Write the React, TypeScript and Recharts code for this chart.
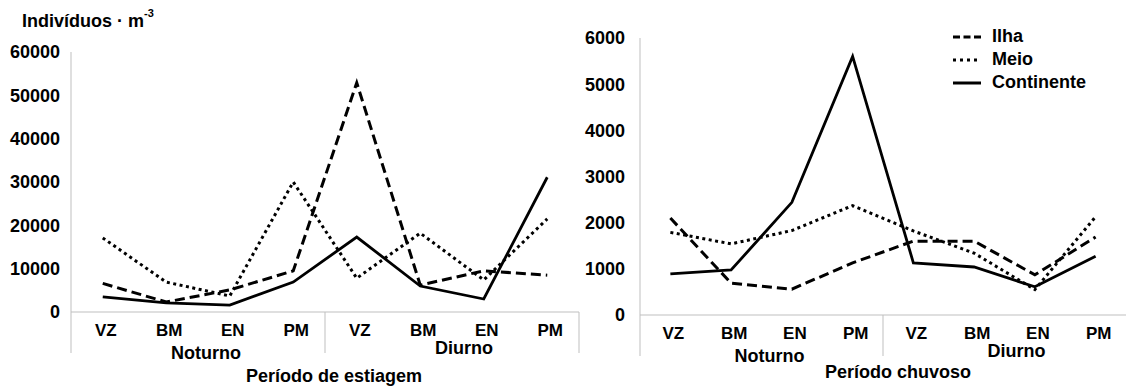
import React from 'react';
import { LineChart, Line, XAxis, YAxis } from 'recharts';

const FONT = '"Liberation Sans", Arial, sans-serif';
const AXIS_GREY = '#bfbfbf';

// categories (same order in both periods)
const categories = ['VZ', 'BM', 'EN', 'PM', 'VZ', 'BM', 'EN', 'PM'];
const groupLabels = ['Noturno', 'Diurno'];

// Período de estiagem (indivíduos por m3)
const estiagemIlha = [6600, 2300, 5100, 9500, 52900, 6200, 9500, 8500];
const estiagemMeio = [17100, 6900, 3700, 30000, 7800, 18200, 7400, 21500];
const estiagemContinente = [3500, 2100, 1600, 6900, 17300, 6000, 3000, 31100];

// Período chuvoso
const chuvosoIlha = [2100, 690, 560, 1130, 1600, 1600, 870, 1690];
const chuvosoMeio = [1790, 1540, 1830, 2370, 1820, 1340, 550, 2130];
const chuvosoContinente = [890, 975, 2440, 5600, 1130, 1040, 610, 1270];

const estiagemTicks = [0, 10000, 20000, 30000, 40000, 50000, 60000];
const chuvosoTicks = [0, 1000, 2000, 3000, 4000, 5000, 6000];

const seriesNames = ['Ilha', 'Meio', 'Continente'];

const lineStyle: Record<string, { dash?: string; width: number; legendDash?: string }> = {
  Ilha: { dash: '10 5', width: 3, legendDash: '7 3.5' },
  Meio: { dash: '3 3.5', width: 3, legendDash: '3 4' },
  Continente: { width: 2.8 },
};

const buildRows = (ilha: number[], meio: number[], cont: number[]) =>
  categories.map((cat, i) => ({ cat, Ilha: ilha[i], Meio: meio[i], Continente: cont[i] }));

const estiagemData = buildRows(estiagemIlha, estiagemMeio, estiagemContinente);
const chuvosoData = buildRows(chuvosoIlha, chuvosoMeio, chuvosoContinente);

// plot widths -> half a category band, used as axis padding so points sit mid-band
const LEFT_PLOT_W = 508;
const RIGHT_PLOT_W = 486;
const leftHalf = LEFT_PLOT_W / categories.length / 2;
const rightHalf = RIGHT_PLOT_W / categories.length / 2;

function CategoryTick(props: any) {
  const { x, y, payload, half, title, titleDx, titleDy, closeRight } = props;
  const index = payload.index ?? props.index;
  const textStyle = { fontFamily: FONT, fontWeight: 'bold', fill: '#000' } as const;
  const isGroupStart = index % 4 === 0;
  const group = groupLabels[Math.floor(index / 4)];
  return (
    <g>
      <text x={x + 3} y={y + 24} textAnchor="middle" fontSize={17} {...textStyle}>
        {payload.value}
      </text>
      {isGroupStart && (
        <line x1={x - half} x2={x - half} y1={y} y2={y + 41} stroke={AXIS_GREY} strokeWidth={1} />
      )}
      {isGroupStart && (
        <text
          x={x - half + 4 * half + (index === 0 ? 8 : 12)}
          y={y + (index === 0 ? 47 : 42)}
          textAnchor="middle"
          fontSize={18}
          {...textStyle}
        >
          {group}
        </text>
      )}
      {closeRight && index === categories.length - 1 && (
        <line x1={x + half} x2={x + half} y1={y} y2={y + 41} stroke={AXIS_GREY} strokeWidth={1} />
      )}
      {index === 0 && (
        <text x={x - half + 8 * half + titleDx} y={y + titleDy} textAnchor="middle" fontSize={18} {...textStyle}>
          {title}
        </text>
      )}
    </g>
  );
}

function LegendBox() {
  return (
    <div
      style={{
        position: 'absolute',
        left: 953,
        top: 25,
        fontFamily: FONT,
        fontWeight: 'bold',
        fontSize: 18,
        color: '#000',
      }}
    >
      {seriesNames.map((name) => (
        <div key={name} style={{ display: 'flex', alignItems: 'center', height: 23 }}>
          <svg width={28} height={10} style={{ marginRight: 11 }}>
            <line
              x1={0}
              x2={28}
              y1={5}
              y2={5}
              stroke="#000"
              strokeWidth={3}
              strokeDasharray={lineStyle[name].legendDash}
            />
          </svg>
          <span>{name}</span>
        </div>
      ))}
    </div>
  );
}

function renderLines() {
  return seriesNames.map((name) => (
    <Line
      key={name}
      type="linear"
      dataKey={name}
      stroke="#000"
      strokeWidth={lineStyle[name].width}
      strokeDasharray={lineStyle[name].dash}
      dot={false}
      activeDot={false}
      isAnimationActive={false}
    />
  ));
}

const yTick = { fill: '#000', fontSize: 18, fontWeight: 'bold', fontFamily: FONT };

export default function App() {
  return (
    <div style={{ position: 'absolute', left: 0, top: 0, width: 1126, height: 387, background: '#fff', overflow: 'hidden' }}>
      <div
        style={{
          position: 'absolute',
          left: 22,
          top: 12,
          fontFamily: FONT,
          fontWeight: 'bold',
          fontSize: 18,
          lineHeight: 1,
          color: '#000',
          whiteSpace: 'nowrap',
        }}
      >
        Indivíduos · m<sup style={{ fontSize: 11, verticalAlign: 'top', position: 'relative', top: -4 }}>-3</sup>
      </div>

      <div style={{ position: 'absolute', left: 0, top: 0 }}>
        <LineChart
          width={581}
          height={387}
          data={estiagemData}
          margin={{ top: 52, right: 2, bottom: 0, left: 0 }}
          style={{ fontFamily: FONT }}
        >
          <XAxis
            dataKey="cat"
            interval={0}
            height={75}
            padding={{ left: leftHalf, right: leftHalf }}
            axisLine={{ stroke: AXIS_GREY }}
            tickLine={false}
            tickSize={0}
            tickMargin={0}
            tick={(p: any) => (
              <CategoryTick {...p} half={leftHalf} title="Período de estiagem" titleDx={9} titleDy={70} closeRight />
            )}
          />
          <YAxis
            width={71}
            domain={[0, 60000]}
            ticks={estiagemTicks}
            interval={0}
            axisLine={{ stroke: AXIS_GREY }}
            tickLine={false}
            tickSize={0}
            tickMargin={11}
            tick={yTick}
          />
          {renderLines()}
        </LineChart>
      </div>

      <div style={{ position: 'absolute', left: 560, top: 0 }}>
        <LineChart
          width={566}
          height={387}
          data={chuvosoData}
          margin={{ top: 38, right: 0, bottom: 0, left: 0 }}
          style={{ fontFamily: FONT }}
        >
          <XAxis
            dataKey="cat"
            interval={0}
            height={72}
            padding={{ left: rightHalf, right: rightHalf }}
            axisLine={{ stroke: AXIS_GREY }}
            tickLine={false}
            tickSize={0}
            tickMargin={0}
            tick={(p: any) => (
              <CategoryTick {...p} half={rightHalf} title="Período chuvoso" titleDx={15} titleDy={63} />
            )}
          />
          <YAxis
            width={80}
            domain={[0, 6000]}
            ticks={chuvosoTicks}
            interval={0}
            axisLine={{ stroke: AXIS_GREY }}
            tickLine={false}
            tickSize={0}
            tickMargin={15}
            tick={yTick}
          />
          {renderLines()}
        </LineChart>
      </div>

      <LegendBox />
    </div>
  );
}
